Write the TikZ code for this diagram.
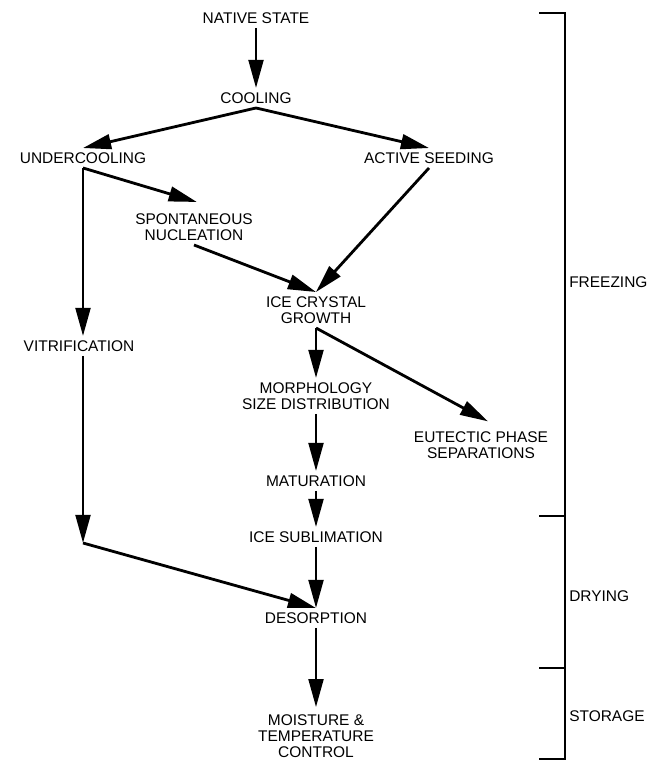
\documentclass[tikz,border=0pt]{standalone}
\usepackage{fontspec}
\setmainfont{Liberation Sans}
\usetikzlibrary{arrows.meta,positioning}
\tikzset{
  st/.style={align=center, inner xsep=0pt, inner ysep=3pt,
             font=\fontsize{11}{11.4}\selectfont},
  flow/.style={-{Triangle[length=20pt, width=10.5pt]}, line width=2pt},
  brk/.style={line width=1.6pt},
  phase/.style={anchor=west, inner sep=0pt, font=\fontsize{11}{11.4}\selectfont},
}

\begin{document}
\begin{tikzpicture}[x=0.025cm, y=-0.025cm]
    \useasboundingbox (0,0) rectangle (654,760);
    % stages
    \node[st] (stnative) at (256,18)  {NATIVE STATE};
    \node[st] (stcool)   at (256,98)  {COOLING};
    \node[st] (stunder)  at (83,158)  {UNDERCOOLING};
    \node[st] (stseed)   at (429,158) {ACTIVE SEEDING};
    \node[st] (stspont)  at (194,227) {SPONTANEOUS\\NUCLEATION};
    \node[st] (stvitr)   at (79,346)  {VITRIFICATION};
    \node[st] (stice)    at (316,310) {ICE CRYSTAL\\GROWTH};
    \node[st] (stmorph)  at (316,396) {MORPHOLOGY\\SIZE DISTRIBUTION};
    \node[st] (steut)    at (481,445) {EUTECTIC PHASE\\SEPARATIONS};
    \node[st] (stmat)    at (316,481) {MATURATION};
    \node[st] (stsubl)   at (316,537) {ICE SUBLIMATION};
    \node[st] (stdes)    at (316,618) {DESORPTION};
    \node[st] (stmoist)  at (316,736) {MOISTURE \&\\TEMPERATURE\\CONTROL};
    \coordinate (bend) at (83,543);
    % arrows
    \draw[flow] (stnative) -- (stcool);
    \draw[flow] (stcool.south) -- (stunder.north);
    \draw[flow] (stcool.south) -- (stseed.north);
    \draw[flow] (stunder.south) -- ([xshift=2pt,yshift=5pt]stspont.north);
    \draw[flow] (stunder.south) -- (stunder.south |- stvitr.north);
    \draw[flow] (stspont.south) -- (stice.north);
    \draw[flow] (stseed.south) -- (stice.north);
    \draw[flow] (stice.south) -- (stmorph.north);
    \draw[flow] (stice.south) -- ([xshift=5pt,yshift=4pt]steut.north);
    \draw[flow] (stmorph) -- (stmat);
    \draw[flow] (stmat) -- (stsubl);
    \draw[flow] (stsubl) -- (stdes);
    \draw[flow] (stunder.south |- stvitr.south) -- (bend);
    \draw[flow] (bend) -- (stdes.north);
    \draw[flow] (stdes) -- ([yshift=2pt]stmoist.north);
    % phase bracket
    \draw[brk] (539,13) -- (565,13) -- (565,760);
    \draw[brk] (539,516) -- (565,516);
    \draw[brk] (539,668) -- (565,668);
    \draw[brk] (539,759) -- (565,759);
    \node[phase] (phfrz) at (569,282) {FREEZING};
    \node[phase] (phdry) at (569,596) {DRYING};
    \node[phase] (phsto) at (569,716) {STORAGE};
\end{tikzpicture}
\end{document}
